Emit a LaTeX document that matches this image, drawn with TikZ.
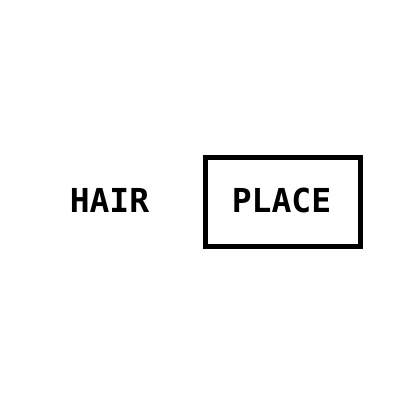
\documentclass[tikz,border=0pt]{standalone}
\usepackage{fontspec}
\setmonofont{DejaVu Sans Mono}
\begin{document}
\begin{tikzpicture}[x=1pt,y=1pt,
  lbl/.style={font=\ttfamily\bfseries\fontsize{33}{33}\selectfont, inner sep=0pt, anchor=center},
  framebox/.style={draw=black, line width=5pt, minimum width=155.5pt, minimum height=89pt, inner sep=0pt}]
\useasboundingbox (0,0) rectangle (400,400);
\node[lbl] (hair) at (109.5,200) {HAIR};
\node[framebox] (box) at (282.75,198) {};
\node[lbl] (place) at (281.5,200) {PLACE};
\end{tikzpicture}
\end{document}
